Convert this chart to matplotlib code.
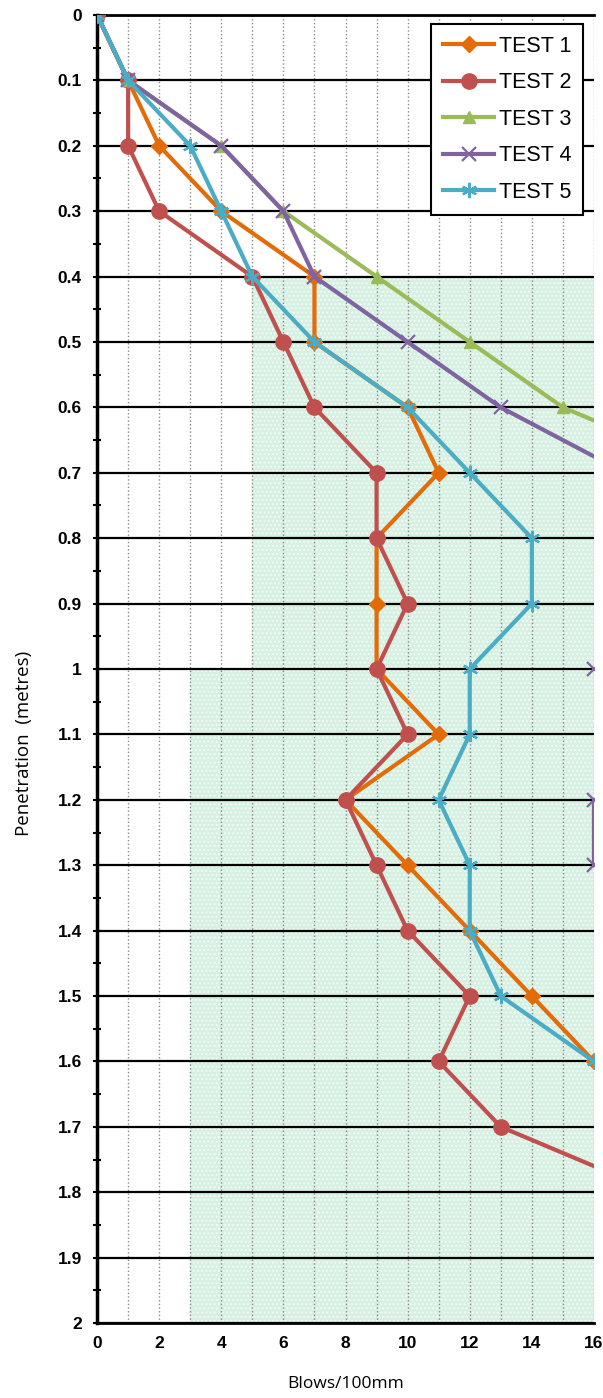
import matplotlib
matplotlib.use("Agg")
import matplotlib.pyplot as plt
from matplotlib.ticker import MultipleLocator

# глибина проникнення, м
depth = [0.0, 0.1, 0.2, 0.3, 0.4, 0.5, 0.6, 0.7, 0.8, 0.9, 1.0,
         1.1, 1.2, 1.3, 1.4, 1.5, 1.6, 1.7, 1.8]

test1 = [0, 1, 2, 4, 7, 7, 10, 11, 9, 9, 9, 11, 8, 10, 12, 14, 16]
test2 = [0, 1, 1, 2, 5, 6, 7, 9, 9, 10, 9, 10, 8, 9, 10, 12, 11, 13, 18]
test3 = [0, 1, 4, 6, 9, 12, 15, 20]
test4 = [0, 1, 4, 6, 7, 10, 13, 17, 19, 20, 16, 20, 16, 16, 20]
test5 = [0, 1, 3, 4, 5, 7, 10, 12, 14, 14, 12, 12, 11, 12, 12, 13, 16]

series = [
    ("TEST 1", test1, "#E36C09", "D", 8),
    ("TEST 2", test2, "#C0504D", "o", 11),
    ("TEST 3", test3, "#9BBB59", "^", 9),
    ("TEST 4", test4, "#8064A2", "x", 10),
    ("TEST 5", test5, "#4BACC6", (6, 2, 0), 11),
]

# заштрихована зона: (глибина від, глибина до, x від)
zones = [(0.4, 1.0, 5), (1.0, 2.0, 3)]

fig = plt.figure(figsize=(6.03, 13.98), dpi=100)
ax = fig.add_axes([0.161, 0.0536, 0.824, 0.9357])

for y0, y1, x0 in zones:
    ax.fill_betweenx([y0, y1], x0, 16, facecolor="#d6f0e2", edgecolor="#f4fbf7",
                     hatch="....", linewidth=0, zorder=0)

for name, vals, col, mk, ms in series:
    ax.plot(vals, depth[:len(vals)], color=col, marker=mk, markersize=ms,
            linewidth=3, markeredgewidth=1.6 if mk in ("x", (6, 2, 0)) else 1,
            label=name, zorder=3, clip_on=True)

ax.set_xlim(0, 16)
ax.set_ylim(2, 0)
ax.xaxis.set_major_locator(MultipleLocator(2))
ax.xaxis.set_minor_locator(MultipleLocator(1))
ax.yaxis.set_minor_locator(MultipleLocator(0.05))

ax.grid(which="both", axis="x", color="#888888", linestyle=":", linewidth=1, zorder=1)
ax.grid(which="major", axis="y", color="black", linewidth=1.6, zorder=1)
ax.set_axisbelow(True)

ax.spines["right"].set_visible(False)
ax.spines["top"].set_linewidth(2)
ax.spines["left"].set_linewidth(2.5)
ax.spines["bottom"].set_linewidth(2)

ax.tick_params(axis="y", which="major", direction="inout", length=6, width=1.5, pad=8)
ax.tick_params(axis="y", which="minor", direction="inout", length=6, width=1.5)
ax.tick_params(axis="x", which="both", length=0, pad=9)

ylabels = ["0"] + [f"{v/10:g}" for v in range(1, 21)]
ax.set_yticks([v / 10 for v in range(0, 21)])
ax.set_yticklabels(ylabels)
for lab in ax.get_xticklabels() + ax.get_yticklabels():
    lab.set_fontfamily("Liberation Sans")
    lab.set_fontweight("bold")
    lab.set_fontsize(12.5)

ax.set_xlabel("Blows/100mm", fontfamily="Open Sans", fontsize=12.5, labelpad=18)
ax.set_ylabel("Penetration  (metres)", fontfamily="Open Sans", fontsize=13.5, labelpad=12)
ax.yaxis.set_label_coords(-0.128, 0.443)

leg = ax.legend(loc="upper right", bbox_to_anchor=(0.978, 0.993), fancybox=False,
                edgecolor="black", framealpha=1, handlelength=2.4,
                prop={"family": "Liberation Sans", "size": 15.5}, borderpad=0.55,
                labelspacing=0.72, handletextpad=0.2, borderaxespad=0)
leg.get_frame().set_linewidth(1.5)
leg.set_zorder(5)

fig.savefig("out.png", dpi=100)
